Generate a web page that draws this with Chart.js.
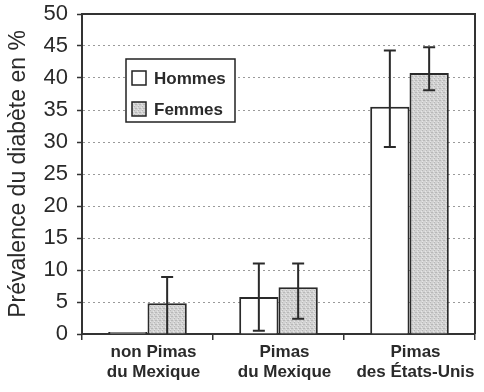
<!DOCTYPE html>
<html><head><meta charset="utf-8">
<script src="https://cdn.jsdelivr.net/npm/chart.js@4/dist/chart.umd.min.js"></script>
<style>html,body{margin:0;padding:0;background:#fff}#wrap{width:484px;height:392px}</style>
</head><body><div id="wrap"><canvas id="c" width="484" height="392"></canvas></div>
<script>
const categories = [["non Pimas","du Mexique"],["Pimas","du Mexique"],["Pimas","des États-Unis"]];
const seriesNames = ["Hommes","Femmes"];
const hommes = [0.3, 5.8, 35.5];
const femmes = [4.8, 7.3, 40.8];
const hommesLow = [null, 0.5, 29.2];
const hommesHigh = [null, 11.0, 44.3];
const femmesLow = [0, 2.4, 38.1];
const femmesHigh = [8.9, 11.0, 44.8];
const yTicks = [0,5,10,15,20,25,30,35,40,45,50];
const yTitle = "Prévalence du diabète en %";

// stippled gray pattern (fixed, deterministic)
function makePattern(){
  const p = document.createElement('canvas'); p.width = 4; p.height = 4;
  const g = p.getContext('2d');
  g.fillStyle = '#d2d2d2'; g.fillRect(0,0,4,4);
  g.fillStyle = '#b8b8b8'; g.fillRect(0,0,1,1); g.fillRect(2,2,1,1); g.fillRect(3,0,1,1);
  g.fillStyle = '#e6e6e6'; g.fillRect(1,3,1,1); g.fillRect(2,1,1,1);
  return g.createPattern(p,'repeat');
}
const ctx0 = document.getElementById('c').getContext('2d');
const grayFill = makePattern();
const ink = '#2a2a2a';

const errorBars = {
  id:'errorBars',
  afterDatasetsDraw(chart){
    const ctx = chart.ctx, y = chart.scales.y;
    const lows = [hommesLow, femmesLow], highs = [hommesHigh, femmesHigh];
    ctx.save(); ctx.strokeStyle = ink; ctx.lineWidth = 2;
    chart.data.datasets.forEach((ds, di) => {
      const meta = chart.getDatasetMeta(di);
      meta.data.forEach((bar, i) => {
        const lo = lows[di][i], hi = highs[di][i];
        if (lo == null || hi == null) return;
        const x = bar.x, y1 = y.getPixelForValue(lo), y2 = y.getPixelForValue(hi);
        ctx.beginPath();
        ctx.moveTo(x, y1); ctx.lineTo(x, y2);
        ctx.moveTo(x-6, y2); ctx.lineTo(x+6, y2);
        if (lo > 0) { ctx.moveTo(x-6, y1); ctx.lineTo(x+6, y1); }
        ctx.stroke();
      });
    });
    ctx.restore();
  }
};
const frame = {
  id:'frame',
  afterDatasetsDraw(chart){
    const {ctx, chartArea:a} = chart;
    ctx.save(); ctx.strokeStyle = '#333'; ctx.lineWidth = 2;
    ctx.beginPath(); ctx.moveTo(a.left, a.top); ctx.lineTo(a.right, a.top); ctx.lineTo(a.right, a.bottom); ctx.stroke();
    ctx.restore();
  }
};
const boxLegend = {
  id:'boxLegend',
  afterDraw(chart){
    const {ctx, chartArea:a} = chart;
    const bx = a.left + 44, by = a.top + 45, bw = 109, bh = 63;
    ctx.save();
    ctx.fillStyle = '#fff'; ctx.fillRect(bx, by, bw, bh);
    ctx.strokeStyle = '#222'; ctx.lineWidth = 1.5; ctx.strokeRect(bx, by, bw, bh);
    const fills = ['#ffffff', grayFill];
    seriesNames.forEach((n, i) => {
      const sy = by + 12 + i*31;
      ctx.fillStyle = fills[i]; ctx.fillRect(bx+6, sy, 14, 14);
      ctx.strokeStyle = '#222'; ctx.lineWidth = 1.5; ctx.strokeRect(bx+6, sy, 14, 14);
      ctx.fillStyle = ink; ctx.font = 'bold 17px "Liberation Sans", Arial, sans-serif';
      ctx.textBaseline = 'middle'; ctx.textAlign = 'left';
      ctx.fillText(n, bx+28, sy+8);
    });
    ctx.restore();
  }
};

new Chart(ctx0, {
  type:'bar',
  data:{
    labels: categories,
    datasets:[
      {label: seriesNames[0], data: hommes, backgroundColor:'#ffffff', borderColor: ink, borderWidth:2, borderSkipped:'bottom'},
      {label: seriesNames[1], data: femmes, backgroundColor: grayFill, borderColor: ink, borderWidth:2, borderSkipped:'bottom'}
    ]
  },
  options:{
    responsive:false, animation:false, devicePixelRatio:1,
    layout:{padding:{left:5, right:9, top:14, bottom:0}},
    plugins:{legend:{display:false}, tooltip:{enabled:false}},
    datasets:{bar:{barPercentage:1.0, categoryPercentage:0.6}},
    scales:{
      x:{
        grid:{offset:true, drawOnChartArea:false, drawTicks:true, tickLength:6, color:'#333', lineWidth:1.5},
        border:{color:'#333', width:2},
        ticks:{color:ink, font:{family:'"Liberation Sans", Arial, sans-serif', size:17, weight:'bold'}, padding:2, labelOffset:6, maxRotation:0, autoSkip:false},
        afterFit(s){ s.height = 58; s.paddingLeft = 0; s.paddingRight = 0; }
      },
      y:{
        min:0, max:50,
        afterBuildTicks(s){ s.ticks = yTicks.map(v => ({value:v})); },
        grid:{color:'#9a9a9a', lineWidth:1, tickLength:5, tickColor:'#333', tickWidth:1.5, tickBorderDash:[]},
        border:{color:'#333', width:2, dash:[2,3]},
        ticks:{color:ink, font:{family:'"Liberation Sans", Arial, sans-serif', size:22}, padding:9},
        title:{display:true, text:yTitle, color:ink, font:{family:'"Liberation Sans", Arial, sans-serif', size:23}, padding:{top:0,bottom:2}},
        afterFit(s){ s.width = 77; s.paddingTop = 0; s.paddingBottom = 0; }
      }
    }
  },
  plugins:[errorBars, frame, boxLegend]
});
</script></body></html>
